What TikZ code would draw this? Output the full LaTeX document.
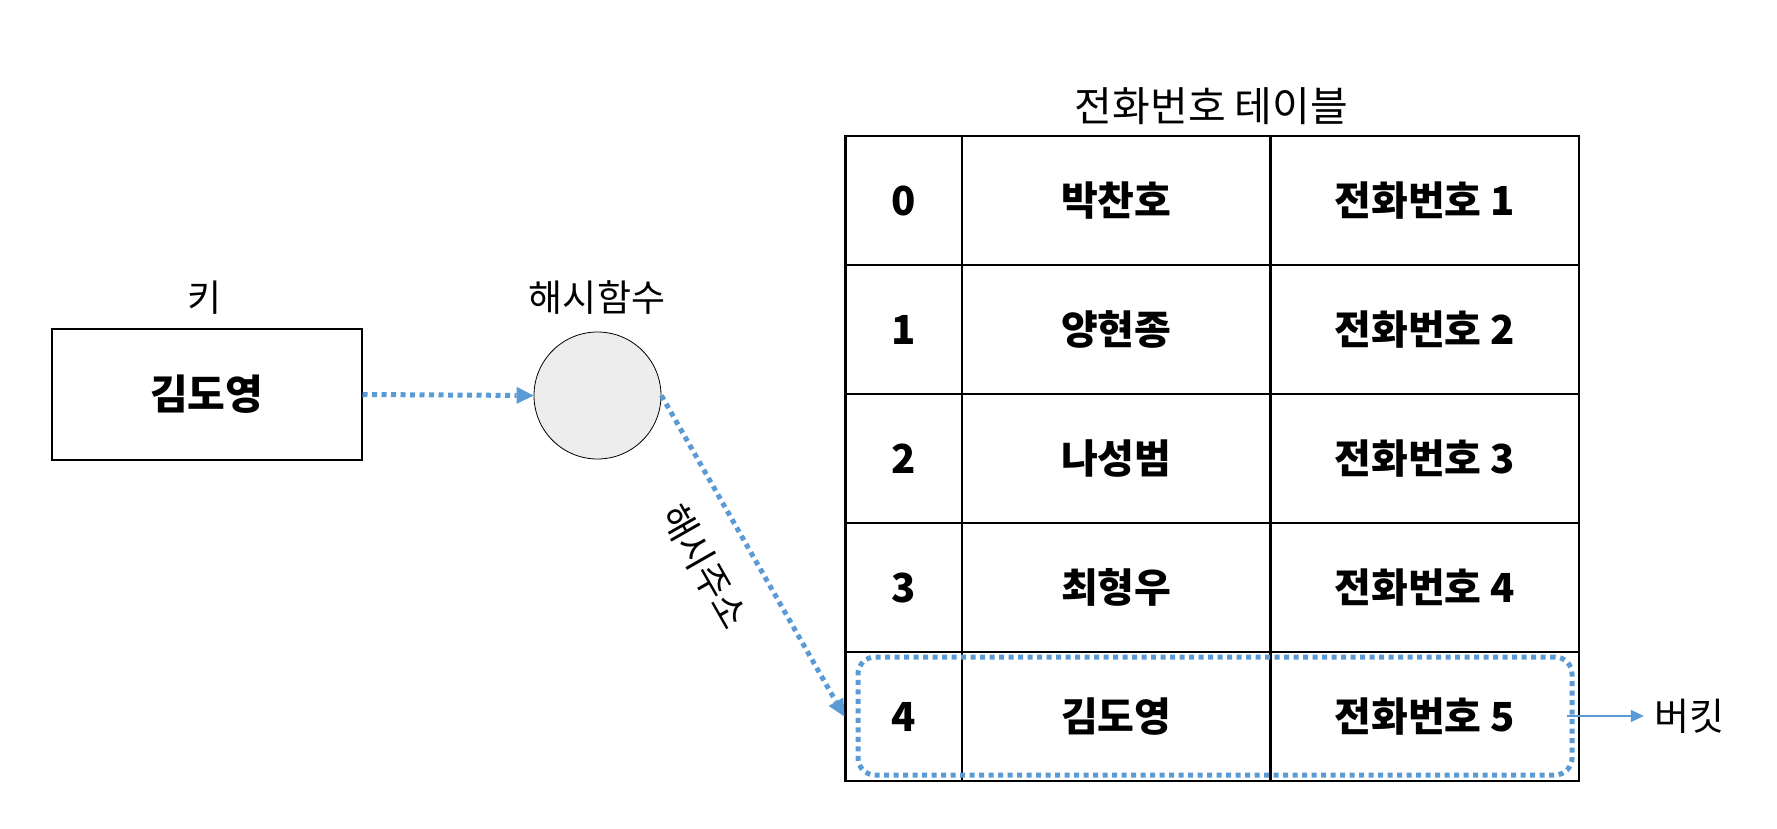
\documentclass[tikz,border=0pt]{standalone}
\usepackage{fontspec}
\setmainfont{Noto Sans CJK KR}
\usetikzlibrary{arrows.meta}
\definecolor{lblue}{HTML}{5B9BD5}
\definecolor{cgray}{HTML}{EDEDED}
\tikzset{
  lbl/.style={font=\fontsize{37}{42}\selectfont, inner sep=2pt},
  cell/.style={draw=black, line width=2.2pt, font=\fontsize{40}{44}\selectfont\bfseries, minimum height=129pt, inner sep=0pt, anchor=center},
  dotarrow/.style={draw=lblue, line width=5pt, dash pattern=on 5pt off 4.5pt, -{Triangle[length=17pt,width=17pt,line width=0pt]}},
}
\begin{document}
\begin{tikzpicture}[x=1pt,y=-1pt]
\useasboundingbox (0,0) rectangle (1777,828);
% key box
\node[draw=black, line width=2pt, minimum width=309.5pt, minimum height=131pt, inner sep=0pt, font=\fontsize{41}{44}\selectfont\bfseries] (key) at (206.75,394.5) {김도영};
\node[lbl] (keylbl) at (205,298) {키};
% hash function
\node[circle, draw=black, line width=0.8pt, fill=cgray, minimum size=127pt, inner sep=0pt] (hash) at (597.5,395.5) {};
\node[lbl] (hashlbl) at (597,298) {해시함수};
% table
\node[lbl, font=\fontsize{41}{44}\selectfont] (title) at (1211.5,106.5) {전화번호 테이블};
\foreach \r/\n/\p in {0/박찬호/1, 1/양현종/2, 2/나성범/3, 3/최형우/4, 4/김도영/5}{
  \pgfmathsetmacro{\yy}{200.5+129*\r}
  \node[cell, minimum width=116.5pt] (c\r0) at (903.75,\yy) {\r};
  \node[cell, minimum width=308.5pt] (c\r1) at (1116.25,\yy) {\n};
  \node[cell, minimum width=308.5pt] (c\r2) at (1424.75,\yy) {전화번호 \p};
}
% bucket
\node[draw=lblue, line width=5pt, dash pattern=on 5pt off 4.5pt, rounded corners=17pt, minimum width=714pt, minimum height=118pt, inner sep=0pt] (bucket) at (1215,716) {};
\node[lbl, font=\fontsize{38}{42}\selectfont] (bucketlbl) at (1689,716) {버킷};
% connectors
\draw[dotarrow] (key.east) -- (hash.west);
\draw[dotarrow] (hash.east) -- (c40.west) node[pos=0.46, sloped, below=47pt, lbl, anchor=center] (addr) {해시주소};
\draw[draw=lblue, line width=1.5pt, -{Triangle[length=13pt,width=12pt]}] ([xshift=-8pt]bucket.east) -- ([xshift=-8pt]bucketlbl.west);
\end{tikzpicture}
\end{document}
